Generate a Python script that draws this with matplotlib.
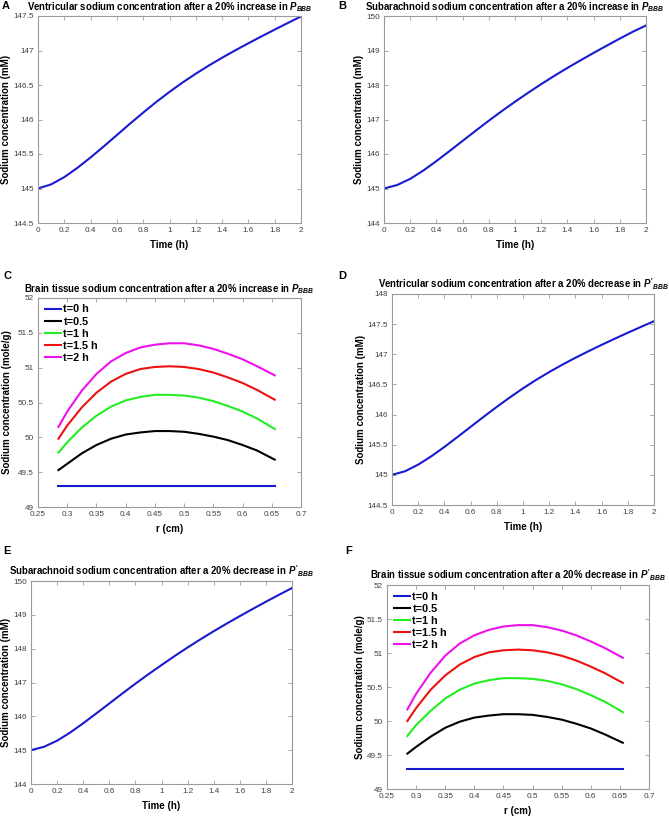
import matplotlib
matplotlib.use("Agg")
import matplotlib.pyplot as plt
from matplotlib.ticker import FuncFormatter, MultipleLocator

plt.rcParams['font.family'] = ['Liberation Sans', 'DejaVu Sans']
plt.rcParams['mathtext.fontset'] = 'custom'
plt.rcParams['mathtext.it'] = 'Liberation Sans:italic:bold'
plt.rcParams['mathtext.rm'] = 'Liberation Sans:bold'
plt.rcParams['mathtext.bf'] = 'Liberation Sans:bold'

# ---------------- data ----------------
time_h = [0.0, 0.1, 0.2, 0.3, 0.4, 0.5, 0.6, 0.7, 0.8, 0.9, 1.0,
          1.1, 1.2, 1.3, 1.4, 1.5, 1.6, 1.7, 1.8, 1.9, 2.0]

vent_inc = [145.00, 145.06, 145.165, 145.30, 145.45, 145.61, 145.775, 145.94, 146.10, 146.255, 146.40,
            146.537, 146.664, 146.783, 146.895, 147.002, 147.105, 147.205, 147.303, 147.399, 147.493]
sub_inc = [145.00, 145.10, 145.28, 145.52, 145.795, 146.085, 146.38, 146.675, 146.965, 147.245, 147.515,
           147.775, 148.025, 148.265, 148.495, 148.715, 148.93, 149.14, 149.345, 149.545, 149.725]
vent_dec = [145.00, 145.06, 145.17, 145.308, 145.463, 145.628, 145.796, 145.964, 146.128, 146.285, 146.435,
            146.575, 146.705, 146.827, 146.942, 147.051, 147.156, 147.258, 147.357, 147.454, 147.549]
sub_dec = [145.00, 145.10, 145.28, 145.52, 145.795, 146.085, 146.38, 146.675, 146.965, 147.245, 147.515,
           147.78, 148.035, 148.28, 148.515, 148.742, 148.962, 149.177, 149.387, 149.592, 149.792]

r_cm = [0.285, 0.30, 0.325, 0.35, 0.375, 0.40, 0.425, 0.45, 0.475, 0.50,
        0.525, 0.55, 0.575, 0.60, 0.625, 0.655]

labels_t = ['t=0 h', 't=0.5', 't=1 h', 't=1.5 h', 't=2 h']

tissue_inc_t0 = [49.30] * 16
tissue_inc_t05 = [49.53, 49.62, 49.77, 49.89, 49.98, 50.04, 50.07, 50.09, 50.09, 50.08,
                  50.05, 50.01, 49.96, 49.89, 49.81, 49.68]
tissue_inc_t1 = [49.78, 49.93, 50.14, 50.31, 50.44, 50.53, 50.58, 50.61, 50.61, 50.60,
                 50.57, 50.52, 50.45, 50.37, 50.27, 50.12]
tissue_inc_t15 = [49.98, 50.17, 50.43, 50.64, 50.80, 50.91, 50.98, 51.01, 51.02, 51.01,
                  50.98, 50.93, 50.86, 50.78, 50.68, 50.54]
tissue_inc_t2 = [50.15, 50.37, 50.67, 50.91, 51.09, 51.21, 51.29, 51.33, 51.35, 51.35,
                 51.32, 51.27, 51.20, 51.12, 51.02, 50.89]

tissue_dec_t0 = [49.30] * 16
tissue_dec_t05 = [49.52, 49.62, 49.77, 49.90, 49.99, 50.05, 50.08, 50.10, 50.10, 50.09,
                  50.06, 50.02, 49.96, 49.89, 49.80, 49.68]
tissue_dec_t1 = [49.78, 49.94, 50.15, 50.33, 50.46, 50.55, 50.60, 50.63, 50.63, 50.62,
                 50.59, 50.54, 50.47, 50.38, 50.28, 50.13]
tissue_dec_t15 = [50.00, 50.19, 50.46, 50.67, 50.83, 50.94, 51.01, 51.04, 51.05, 51.04,
                  51.01, 50.96, 50.89, 50.80, 50.70, 50.56]
tissue_dec_t2 = [50.17, 50.40, 50.71, 50.96, 51.14, 51.26, 51.34, 51.39, 51.41, 51.41,
                 51.38, 51.33, 51.26, 51.17, 51.07, 50.93]

# ---------------- style ----------------
BLUE = '#1a1ad0'
COLORS = [BLUE, '#000000', '#22ee22', '#ee1111', '#ee11ee']
TICK_COLOR = '#404040'
SPINE_COLOR = '#9a9a9a'
W, H = 669, 818

fig = plt.figure(figsize=(6.69, 8.18), dpi=100)

def style_ax(ax, xlim, xstep, ylim, ystep):
    ax.set_xlim(*xlim)
    ax.set_ylim(*ylim)
    ax.xaxis.set_major_locator(MultipleLocator(xstep))
    ax.yaxis.set_major_locator(MultipleLocator(ystep))
    fmt = FuncFormatter(lambda v, p: ('%g' % round(v, 4)))
    ax.xaxis.set_major_formatter(fmt)
    ax.yaxis.set_major_formatter(fmt)
    ax.tick_params(direction='in', top=True, right=True, length=3, width=0.6,
                   labelsize=5.9, colors=SPINE_COLOR, labelcolor=TICK_COLOR, pad=3)
    for s in ax.spines.values():
        s.set_color(SPINE_COLOR)
        s.set_linewidth(0.8)

def panel_label(x_px, y_px, txt):
    fig.text(x_px / W, 1 - y_px / H, txt, fontsize=8, fontweight='bold',
             ha='left', va='center')

def px_axes(x0, y0, x1, y1):
    ax = fig.add_axes([x0 / W, 1 - y1 / H, (x1 - x0) / W, (y1 - y0) / H])
    ax._px = (x0, y0, x1, y1)
    return ax

def place_ylabel(ax, x_center_px):
    x0, y0, x1, y1 = ax._px
    ax.yaxis.set_label_coords((x_center_px - x0) / (x1 - x0), 0.5)

def place_xlabel(ax, y_center_px):
    x0, y0, x1, y1 = ax._px
    ax.xaxis.set_label_coords(0.5, -(y_center_px - y1) / (y1 - y0))

title_kw = dict(fontsize=6.9, fontweight='bold', pad=4)
lab_kw = dict(fontsize=7, fontweight='bold')

def time_panel(ax, vals, ylim, ystep, title, ylab_x):
    ax.plot(time_h, vals, color=BLUE, lw=1.5)
    style_ax(ax, (0, 2), 0.2, ylim, ystep)
    ax.set_title(title, **title_kw)
    ax.set_xlabel('Time (h)', va='center', **lab_kw)
    ax.set_ylabel('Sodium concentration (mM)', va='center', **lab_kw)
    place_ylabel(ax, ylab_x)
    place_xlabel(ax, ax._px[3] + 22)

def tissue(ax, series, title, ylab_x):
    for vals, c, lab in zip(series, COLORS, labels_t):
        ax.plot(r_cm, vals, color=c, lw=1.5, label=lab)
    style_ax(ax, (0.25, 0.7), 0.05, (49, 52), 0.5)
    ax.set_title(title, **title_kw)
    ax.set_xlabel('r (cm)', va='center', **lab_kw)
    ax.set_ylabel('Sodium concentration (mole/g)', va='center', **lab_kw)
    place_ylabel(ax, ylab_x)
    place_xlabel(ax, ax._px[3] + 22)
    ax.legend(loc='upper left', frameon=False, handlelength=1.55,
              handletextpad=0.2, labelspacing=0.2, borderaxespad=0.42,
              borderpad=0.18, prop={'weight': 'bold', 'size': 7.8})

# A
axA = px_axes(38, 16, 301, 223)
time_panel(axA, vent_inc, (144.5, 147.5), 0.5,
           'Ventricular sodium concentration after a 20% increase in $P_{BBB}$', 6.5)
panel_label(2, 6, 'A')

# B
axB = px_axes(384, 16, 646, 223)
time_panel(axB, sub_inc, (144, 150), 1,
           'Subarachnoid sodium concentration after a 20% increase in $P_{BBB}$', 359)
panel_label(338, 6, 'B')

# C
axC = px_axes(38, 298, 301, 507)
tissue(axC, [tissue_inc_t0, tissue_inc_t05, tissue_inc_t1, tissue_inc_t15, tissue_inc_t2],
       'Brain tissue sodium concentration after a 20% increase in $P_{BBB}$', 7)
panel_label(3, 276, 'C')

# D
axD = px_axes(392, 294, 654, 505)
time_panel(axD, vent_dec, (144.5, 148), 0.5,
           "Ventricular sodium concentration after a 20% decrease in $P'_{BBB}$", 361)
panel_label(338, 276, 'D')

# E
axE = px_axes(31, 581, 292, 784)
time_panel(axE, sub_dec, (144, 150), 1,
           "Subarachnoid sodium concentration after a 20% decrease in $P'_{BBB}$", 6)
panel_label(3, 551, 'E')

# F
axF = px_axes(387, 585, 649, 789)
tissue(axF, [tissue_dec_t0, tissue_dec_t05, tissue_dec_t1, tissue_dec_t15, tissue_dec_t2],
       "Brain tissue sodium concentration after a 20% decrease in $P'_{BBB}$", 360)
panel_label(345, 551, 'F')

fig.savefig('out.png', dpi=100)
